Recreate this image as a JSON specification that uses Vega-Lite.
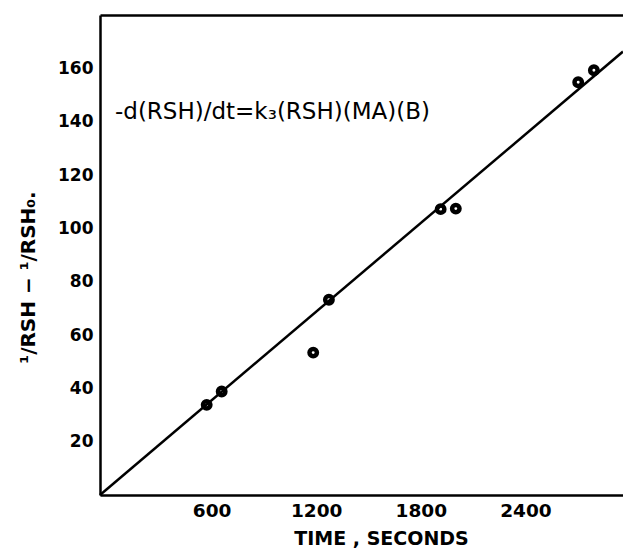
{
  "$schema": "https://vega.github.io/schema/vega-lite/v6.json",
  "width": 523,
  "height": 480,
  "autosize": {"type": "none"},
  "padding": {"left": 100, "top": 15, "right": 0, "bottom": 57},
  "background": "white",
  "config": {
    "view": {"stroke": null},
    "axis": {"domainColor": "black", "domainWidth": 2.5, "grid": false, "ticks": false, "labelColor": "black", "titleColor": "black", "labelFont": "DejaVu Sans", "titleFont": "DejaVu Sans", "labelFontWeight": "bold", "titleFontWeight": "bold"}
  },
  "datasets": {
    "points": [
      {"time": 612, "value": 33.8},
      {"time": 698, "value": 38.8},
      {"time": 1223, "value": 53.4},
      {"time": 1313, "value": 73.2},
      {"time": 1954, "value": 107.2},
      {"time": 2041, "value": 107.4},
      {"time": 2743, "value": 154.8},
      {"time": 2833, "value": 159.3}
    ],
    "fit": [
      {"time": 0, "value": 0},
      {"time": 3000, "value": 166.3}
    ],
    "note": [
      {"time": 86, "value": 143.8, "label": "-d(RSH)/dt=k₃(RSH)(MA)(B)"}
    ]
  },
  "resolve": {"axis": {"x": "independent", "y": "independent"}},
  "layer": [
    {
      "data": {"name": "fit"},
      "mark": {"type": "line", "color": "black", "strokeWidth": 2.5},
      "encoding": {
        "x": {"field": "time", "type": "quantitative", "scale": {"domain": [0, 3000], "nice": false, "zero": false},
              "axis": {"orient": "top", "labels": false, "title": null, "domain": true, "domainWidth": 2.5}},
        "y": {"field": "value", "type": "quantitative", "scale": {"domain": [0, 180], "nice": false},
              "axis": null}
      }
    },
    {
      "data": {"name": "points"},
      "mark": {"type": "point", "filled": false, "color": "black", "strokeWidth": 4.5, "size": 55, "opacity": 1},
      "encoding": {
        "x": {"field": "time", "type": "quantitative", "scale": {"domain": [0, 3000], "nice": false, "zero": false},
              "axis": {"orient": "bottom", "values": [600, 1200, 1800, 2400], "format": "d", "labelFontSize": 18.5, "labelOffset": 7, "labelPadding": 6,
                       "title": "TIME , SECONDS", "titleFontSize": 19, "titleX": 281, "titleY": 34, "titleBaseline": "top"}},
        "y": {"field": "value", "type": "quantitative", "scale": {"domain": [0, 180], "nice": false},
              "axis": {"orient": "left", "values": [20, 40, 60, 80, 100, 120, 140, 160], "labelFontSize": 17, "labelPadding": 7,
                       "title": "¹/RSH − ¹/RSH₀.", "titleFontSize": 20, "titleX": -62, "titleY": 262, "titleAngle": -90, "titleBaseline": "bottom"}}
      }
    },
    {
      "data": {"name": "note"},
      "mark": {"type": "text", "align": "left", "baseline": "middle", "font": "DejaVu Sans", "fontSize": 23, "color": "black"},
      "encoding": {
        "x": {"field": "time", "type": "quantitative", "scale": {"domain": [0, 3000], "nice": false, "zero": false}, "axis": null},
        "y": {"field": "value", "type": "quantitative", "scale": {"domain": [0, 180], "nice": false}, "axis": null},
        "text": {"field": "label"}
      }
    }
  ]
}
